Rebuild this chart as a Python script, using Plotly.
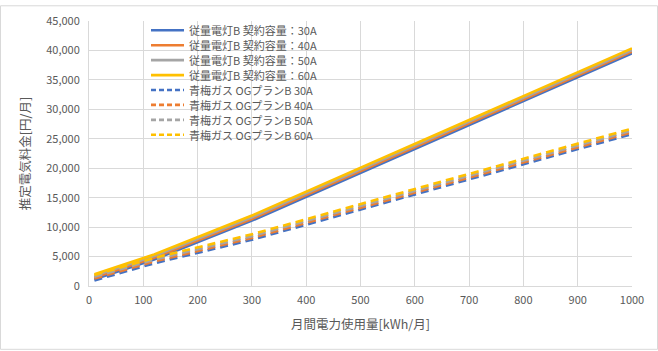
import plotly.graph_objects as go

usage = [10, 120, 300, 1000]

juryo_30 = [1150, 4500, 11100, 39500]
juryo_40 = [1440, 4790, 11390, 39790]
juryo_50 = [1730, 5080, 11680, 40080]
juryo_60 = [2010, 5360, 11960, 40360]

ome_30 = [950, 3850, 7850, 25800]
ome_40 = [1260, 4160, 8160, 26110]
ome_50 = [1570, 4470, 8470, 26420]
ome_60 = [1880, 4780, 8780, 26730]

colors = ["#4472C4", "#ED7D31", "#A5A5A5", "#FFC000"]
amps = ["30A", "40A", "50A", "60A"]

W, H = 658, 351
L, R, T, B = 89, 26, 16, 65
pw, ph = W - L - R, H - T - B

fig = go.Figure()
for a, ys, c in zip(amps, [juryo_30, juryo_40, juryo_50, juryo_60], colors):
    fig.add_trace(go.Scatter(x=usage, y=ys, mode="lines",
                             name=f"従量電灯B 契約容量：{a}",
                             line=dict(color=c, width=2.6)))
for a, ys, c in zip(amps, [ome_30, ome_40, ome_50, ome_60], colors):
    fig.add_trace(go.Scatter(x=usage, y=ys, mode="lines",
                             name=f"青梅ガス OGプランB {a}",
                             line=dict(color=c, width=2.6, dash="8px,5px")))

# Compact legend (Excel style) drawn in paper coordinates
fs = 11
leg_x0, leg_x1, leg_tx = 151, 184, 188
leg_dy = 15.2
leg_y0 = 25.5
for i, tr in enumerate(fig.data):
    yc = leg_y0 + i * leg_dy
    yp = (T + ph - yc) / ph
    fig.add_shape(type="line", xref="paper", yref="paper",
                  x0=(leg_x0 - L) / pw, x1=(leg_x1 - L) / pw, y0=yp, y1=yp,
                  line=dict(color=tr.line.color, width=2.6,
                            dash="solid" if tr.line.dash is None else "5px,3px"))
    fig.add_annotation(xref="paper", yref="paper", x=(leg_tx - L) / pw, y=yp,
                       text=tr.name, showarrow=False, xanchor="left", yanchor="middle",
                       borderpad=0, font=dict(size=fs, color="#595959"))

fig.update_layout(
    width=W, height=H,
    margin=dict(l=L, r=R, t=T, b=B),
    paper_bgcolor="white", plot_bgcolor="white",
    font=dict(family="Noto Sans CJK JP", size=11, color="#595959"),
    showlegend=False,
    xaxis=dict(range=[0, 1000], dtick=100, showgrid=True, gridcolor="#D9D9D9",
               gridwidth=1, zeroline=False, showline=True, linecolor="#D9D9D9",
               ticks="", ticklabelstandoff=4, tickfont=dict(size=11, color="#595959"),
               title=dict(text="月間電力使用量[kWh/月]", font=dict(size=12.5, color="#595959"), standoff=14)),
    yaxis=dict(range=[0, 45000], dtick=5000, showgrid=True, gridcolor="#D9D9D9",
               gridwidth=1, zeroline=False, showline=True, linecolor="#D9D9D9",
               ticks="", ticklabelstandoff=6, tickformat=",d", tickfont=dict(size=11, color="#595959"),
               title=dict(text="推定電気料金[円/月]", font=dict(size=12.5, color="#595959"), standoff=12)),
)

fig.add_shape(type="rect", xref="paper", yref="paper",
              x0=-(L - 0.5) / pw, x1=1 + (R - 0.5) / pw,
              y0=-(B - 0.5) / ph, y1=1 + (T - 0.5) / ph,
              line=dict(color="#D9D9D9", width=1), layer="below")

fig.write_html("out.html")
